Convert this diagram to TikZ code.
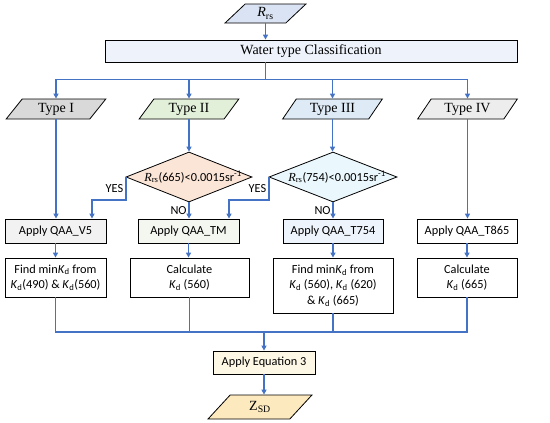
\documentclass[tikz,border=0pt]{standalone}
\usepackage{fontspec}
\setmainfont{Liberation Serif}
\newfontfamily\calfont{Carlito}
\usetikzlibrary{shapes.geometric,arrows.meta}
\definecolor{lineblue}{HTML}{4472C4}
\definecolor{crrs}{HTML}{DAE3F3}
\definecolor{cwt}{HTML}{EEF3FB}
\definecolor{ct1}{HTML}{D9D9D9}
\definecolor{ct2}{HTML}{E2F0D9}
\definecolor{ct3}{HTML}{DEEBF7}
\definecolor{ct4}{HTML}{EDEDED}
\definecolor{cd1}{HTML}{FBE5D6}
\definecolor{cd2}{HTML}{EAF7FC}
\definecolor{cv5}{HTML}{F2F2F2}
\definecolor{ctm}{HTML}{F3F7F0}
\definecolor{c754}{HTML}{EEF4FB}
\definecolor{ceq}{HTML}{FDF8E6}
\definecolor{czsd}{HTML}{FCE9BD}
\newcommand{\Kd}{\textit{K}\textsubscript{d}}
\tikzset{
  para/.style={trapezium, trapezium left angle=55, trapezium right angle=125, trapezium stretches=true, draw=black, line width=0.8pt, inner sep=0pt, font=\fontsize{14}{16}\selectfont},
  box/.style={rectangle, draw=black, line width=0.8pt, inner sep=0pt, align=center, font=\calfont\fontsize{12.3}{15.5}\selectfont},
  dia/.style={diamond, draw=black, line width=0.8pt, inner sep=0pt},
  conn/.style={draw=lineblue, line width=1.8pt},
  arr/.style={conn, -{Triangle[length=5pt,width=5pt]}},
  lab/.style={font=\calfont\fontsize{12.3}{14}\selectfont, inner sep=1.5pt}
}
\begin{document}
\begin{tikzpicture}[x=1pt,y=-1pt]
\useasboundingbox (0,0) rectangle (550,423);
% top
\node[para, fill=crrs, minimum width=81pt, minimum height=19pt] (rrs) at (265.5,13.5) {\textit{R}\textsubscript{rs}};
\node[box, fill=cwt, minimum width=412pt, minimum height=22pt, font=\fontsize{14}{16}\selectfont] (wt) at (311,51) {Water type Classification};
% types
\node[para, fill=ct1, minimum width=100pt, minimum height=20pt] (t1) at (56,109) {Type I};
\node[para, fill=ct2, minimum width=100pt, minimum height=20pt] (t2) at (189,109) {Type II};
\node[para, fill=ct3, minimum width=100pt, minimum height=20pt] (t3) at (332.5,109) {Type III};
\node[para, fill=ct4, minimum width=100pt, minimum height=20pt] (t4) at (467.5,109) {Type IV};
% diamonds
\node[dia, fill=cd1, minimum width=126pt, minimum height=50pt] (d1) at (189,177) {};
\node[lab, font=\calfont\fontsize{12.3}{14}\selectfont] (d1t) at ([xshift=4pt]d1.center) {{\rmfamily\textit{R}\textsubscript{rs}}(665)<0.0015sr\textsuperscript{-1}};
\node[dia, fill=cd2, minimum width=128pt, minimum height=50pt] (d2) at (333,177) {};
\node[lab, font=\calfont\fontsize{12.3}{14}\selectfont] (d2t) at ([xshift=4pt]d2.center) {{\rmfamily\textit{R}\textsubscript{rs}}(754)<0.0015sr\textsuperscript{-1}};
% row 1
\node[box, fill=cv5, minimum width=101pt, minimum height=24pt] (v5) at (55.5,231) {Apply QAA\_V5};
\node[box, fill=ctm, minimum width=101pt, minimum height=24pt] (tm) at (188.5,231) {Apply QAA\_TM};
\node[box, fill=c754, minimum width=100pt, minimum height=24pt] (q754) at (333,231) {Apply QAA\_T754};
\node[box, fill=white, minimum width=100pt, minimum height=24pt] (q865) at (467,231) {Apply QAA\_T865};
% row 2
\node[box, fill=white, minimum width=101pt, minimum height=39pt] (b1) at (55.5,277.5) {Find min\Kd{} from\\\Kd(490) \& \Kd(560)};
\node[box, fill=white, minimum width=119pt, minimum height=39pt] (b2) at (189.5,277.5) {Calculate\\\Kd{} (560)};
\node[box, fill=white, minimum width=120pt, minimum height=55pt] (b3) at (333,285.5) {Find min\Kd{} from\\\Kd{} (560), \Kd{} (620)\\\& \Kd{} (665)};
\node[box, fill=white, minimum width=100pt, minimum height=39pt] (b4) at (467,277.5) {Calculate\\\Kd{} (665)};
% bottom
\node[box, fill=ceq, minimum width=102pt, minimum height=23pt] (eq) at (264,362.5) {Apply Equation 3};
\node[para, fill=czsd, minimum width=104pt, minimum height=24pt] (zsd) at (260,407) {Z\textsubscript{SD}};
% connectors
\draw[arr] (rrs.south) -- (rrs.south |- wt.north);
\coordinate (hub1) at ([yshift=-17pt]rrs.south |- wt.south);
\draw[conn] (rrs.south |- wt.south) -- (hub1);
\draw[arr] (hub1) -| (t1.north);
\draw[arr] (hub1) -| (t2.north);
\draw[arr] (hub1) -| (t3.north);
\draw[arr] (hub1) -| (t4.north);
\draw[arr] (t1.south) -- (t1.south |- v5.north);
\draw[arr] (t2.south) -- (t2.south |- d1.north);
\draw[arr] (t3.south) -- (t3.south |- d2.north);
\draw[arr] (t4.south) -- (t4.south |- q865.north);
\draw[arr] (d1.west) -- node[lab, left] {YES} ++(0,23) -| ([xshift=36.5pt]v5.north);
\draw[arr] (d2.west) -- node[lab, left] {YES} ++(0,23) -| ([xshift=40.5pt]tm.north);
\draw[arr] (d1.south) -- node[lab, left] {NO} (d1.south |- tm.north);
\draw[arr] (d2.south) -- node[lab, left] {NO} (d2.south |- q754.north);
\draw[arr] (v5.south) -- (v5.south |- b1.north);
\draw[arr] (tm.south) -- (tm.south |- b2.north);
\draw[arr] (q754.south) -- (q754.south |- b3.north);
\draw[arr] (q865.south) -- (q865.south |- b4.north);
\coordinate (hub2) at ([yshift=19pt]eq.north);
\draw[conn] (b1.south) |- (hub2);
\draw[conn] (b4.south) |- (hub2);
\draw[conn] (b2.south) -- (b2.south |- hub2);
\draw[conn] (b3.south) -- (b3.south |- hub2);
\draw[arr] (hub2) -- (eq.north);
\draw[arr] (eq.south) -- (eq.south |- zsd.north);
\end{tikzpicture}
\end{document}
